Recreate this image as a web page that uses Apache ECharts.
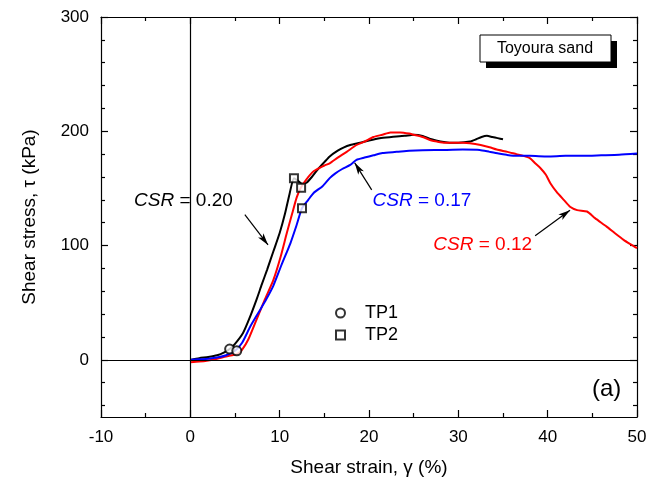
<!DOCTYPE html>
<html>
<head>
<meta charset="utf-8">
<script src="https://cdn.jsdelivr.net/npm/echarts@6/dist/echarts.min.js"></script>
<style>
  html, body { margin: 0; padding: 0; background: #fff; }
  #main { width: 660px; height: 485px; }
</style>
</head>
<body>
<div id="main"></div>
<script>
// data: [shear strain %, shear stress kPa]
const csr020 = [[0,0],[1,1.5],[2,2.5],[3,4],[3.8,6.5],[4.4,9.5],[5,14],[5.9,23.5],[6.6,36],[7.4,52.5],[8.0,66],[8.6,79],[9.3,95],[10.0,111],[10.6,128],[11.1,145],[11.6,159],[12.0,157],[12.5,154],[13.0,155],[13.6,160],[14.3,167],[15,173],[15.6,178],[16.5,183],[17.2,186],[17.9,188],[19,190],[20,192],[21.2,194],[22.5,195],[24,196],[25,197],[26,196],[27,193],[28,191],[29,190],[30,190],[31.3,191],[32,193],[32.6,195],[33.2,196],[33.8,195],[34.4,194],[35,193]];
const csr012 = [[0,-2],[1,-1.5],[2,-0.5],[3,1],[4,3],[5.2,5],[5.8,9],[6.5,18],[7.4,35],[8.3,52],[9.3,70],[10.1,90],[10.8,111],[11.4,128],[11.9,142],[12.4,151],[13.0,158],[13.8,165],[15,170],[15.6,172],[16.5,177],[17.5,182],[18.6,188],[19.5,191],[20.5,195],[21.5,197],[22.4,199],[23.5,199],[24.5,198],[25,197],[26,195],[27,192],[27.6,191],[28.5,190],[29.5,190],[30.5,190],[31.3,189.6],[32.5,188],[33.5,186],[34.3,184],[35.5,182],[36.5,180],[37.3,178.5],[38,176.5],[38.6,172],[39.2,167.7],[39.8,162],[40.3,154.6],[41,147],[41.8,140],[42.5,134],[43.3,131],[44.4,129.8],[45.3,124],[46.6,116.6],[47.5,111],[48.5,105],[49.3,101],[50,97.7]];
const csr017 = [[0,0],[1,0.5],[2,1],[3,2],[4,4],[5,8],[5.8,15],[6.7,29],[7.6,41],[8.5,53],[9.3,65],[10.2,83],[11.2,102],[11.9,118],[12.5,132.7],[13.2,140],[13.8,146],[14.8,152],[15.6,159],[16.2,163],[17,167],[17.9,170.6],[18.6,175],[19.5,177],[20.5,179],[21.5,181],[23.1,182],[24.5,183],[26,183.5],[28.7,183.7],[30.5,184],[32.4,183.7],[33.5,182],[34.5,180.5],[35.4,179.4],[36.5,178.5],[38,178.5],[40,178],[42,178.5],[44,178.5],[46,179],[48,179.5],[50,180.5]];
const tp1 = [[4.4,9.4],[5.2,7.9]];
const tp2 = [[11.6,159],[12.4,150.7],[12.5,132.7]];

const yMajor = [0, 100, 200, 300];
const yMinor = [-40, -20, 20, 40, 60, 80, 120, 140, 160, 180, 220, 240, 260, 280];

// annotation arrows [from, to]
const arrows = [
  { from: [6.1, 127], to: [8.7, 100.6] },
  { from: [20.3, 148.7], to: [18.4, 172.4] },
  { from: [38.6, 108.5], to: [42.5, 131] }
];
const csrLabels = [
  { val: '0.20', at: [-6.3, 139], color: '#000' },
  { val: '0.17', at: [20.4, 139], color: '#0000ff' },
  { val: '0.12', at: [27.2, 100.6], color: '#ff0000' }
];

const FONT = "'Liberation Sans', Arial, sans-serif";
const chart = echarts.init(document.getElementById('main'));

function xAx(pos, showLabel) {
  return {
    type: 'value', position: pos, min: -10, max: 50, interval: 10,
    axisLine: { show: true, onZero: false, lineStyle: { color: '#000', width: 1.2 } },
    axisTick: { show: true, inside: true, length: 7, lineStyle: { color: '#000', width: 1.2 } },
    minorTick: { show: true, splitNumber: 2, length: 4, lineStyle: { color: '#000', width: 1.2 } },
    axisLabel: { show: showLabel, color: '#000', fontSize: 17, fontFamily: FONT, margin: 12 },
    splitLine: { show: false },
    name: showLabel ? 'Shear strain, \u03b3 (%)' : '',
    nameLocation: 'middle', nameGap: 41,
    nameTextStyle: { color: '#000', fontSize: 19, fontFamily: FONT }
  };
}
function yAx(pos, major, showLabel) {
  return {
    type: 'value', position: pos, min: -50, max: 300,
    axisLine: { show: major, onZero: false, lineStyle: { color: '#000', width: 1.2 } },
    axisTick: { show: true, inside: true, length: major ? 7 : 4, customValues: major ? yMajor : yMinor,
      lineStyle: { color: '#000', width: 1.2 } },
    axisLabel: { show: showLabel, customValues: yMajor, color: '#000', fontSize: 17, fontFamily: FONT, margin: 12 },
    splitLine: { show: false },
    name: showLabel ? 'Shear stress, \u03c4 (kPa)' : '',
    nameLocation: 'middle', nameGap: 62, nameRotate: 90,
    nameTextStyle: { color: '#000', fontSize: 19, fontFamily: FONT }
  };
}

function lineSeries(name, data, color) {
  return {
    name: name, type: 'line', data: data, showSymbol: false, smooth: 0.2,
    lineStyle: { color: color, width: 2 }, itemStyle: { color: color },
    z: 3, silent: true
  };
}

const black = lineSeries('CSR 0.20', csr020, '#000');
black.markLine = {
  silent: true, animation: false,
  label: { show: false },
  data: [
    [{ coord: [0, -50], symbol: 'none' }, { coord: [0, 300], symbol: 'none' }],
    [{ coord: [-10, 0], symbol: 'none' }, { coord: [50, 0], symbol: 'none' }]
  ].concat(arrows.map(a => [
    { coord: a.from, symbol: 'none' },
    { coord: a.to, symbol: 'arrow', symbolSize: [5, 12] }
  ])),
  lineStyle: { color: '#000', width: 1.2, type: 'solid' }
};

const markerStyle = { color: '#000', borderColor: '#000', borderWidth: 1.8 };

const option = {
  animation: false,
  textStyle: { fontFamily: FONT },
  grid: { left: 101, right: 23, top: 17, bottom: 68 },
  xAxis: [xAx('bottom', true), xAx('top', false)],
  yAxis: [yAx('left', true, true), yAx('left', false, false), yAx('right', true, false), yAx('right', false, false)],
  legend: {
    data: [{ name: 'TP1', icon: 'emptyCircle' }, { name: 'TP2', icon: 'emptyRect' }],
    orient: 'vertical', left: 330, top: 299, itemWidth: 9, itemHeight: 9, itemGap: 4,
    textStyle: { color: '#000', fontSize: 18, fontFamily: FONT, padding: [0, 0, 0, 15] },
    selectedMode: false
  },
  series: [
    black,
    lineSeries('CSR 0.12', csr012, '#ff0000'),
    lineSeries('CSR 0.17', csr017, '#0000ff'),
    { name: 'TP1', type: 'scatter', data: tp1, symbol: 'emptyCircle', symbolSize: 9, z: 5, itemStyle: markerStyle },
    { name: 'TP2', type: 'scatter', data: tp2, symbol: 'emptyRect', symbolSize: 8, z: 5, itemStyle: markerStyle }
  ]
};
chart.setOption(option);

const graphics = csrLabels.map(l => {
  const p = chart.convertToPixel({ xAxisIndex: 0, yAxisIndex: 0 }, l.at);
  return {
    type: 'text', x: p[0], y: p[1], z: 10,
    style: {
      text: '{i|CSR} = ' + l.val, fill: l.color, fontSize: 19, fontFamily: FONT, verticalAlign: 'middle',
      rich: { i: { fontStyle: 'italic', fontSize: 19, fontFamily: FONT, fill: l.color } }
    }
  };
});
graphics.push(
  { type: 'rect', shape: { x: 486, y: 41, width: 131, height: 27 }, style: { fill: '#000' }, z: 10 },
  { type: 'rect', shape: { x: 480, y: 35, width: 131, height: 27 }, style: { fill: '#fff', stroke: '#000', lineWidth: 1 }, z: 11 },
  { type: 'text', x: 545, y: 49, z: 12, style: { text: 'Toyoura sand', fill: '#000', fontSize: 16, fontFamily: FONT, align: 'center', verticalAlign: 'middle' } },
  { type: 'text', x: 592, y: 389, z: 12, style: { text: '(a)', fill: '#000', fontSize: 24, fontFamily: FONT, verticalAlign: 'middle' } }
);
chart.setOption({ graphic: graphics });
</script>
</body>
</html>
